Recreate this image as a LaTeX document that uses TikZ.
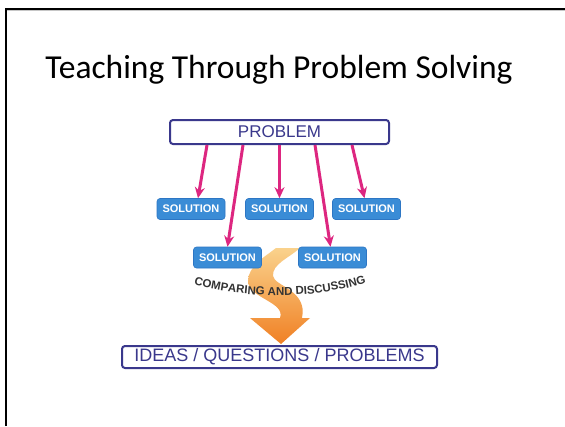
\documentclass[tikz,border=0pt]{standalone}
\usepackage{fontspec}
\setmainfont{Carlito}
\setsansfont{Liberation Sans}
\usetikzlibrary{arrows.meta,decorations.text}
\definecolor{probblue}{RGB}{58,56,140}
\definecolor{solfill}{RGB}{58,140,214}
\definecolor{soledge}{RGB}{45,118,196}
\definecolor{pinkline}{RGB}{221,38,128}
\definecolor{ribtop}{RGB}{250,210,140}
\definecolor{ribbot}{RGB}{240,128,36}

\begin{document}
\begin{tikzpicture}[x=1pt,y=-1pt,
  probbox/.style={draw=probblue,line width=2pt,fill=white,rounded corners=3pt,
    text=probblue,font=\sffamily\fontsize{17}{17}\selectfont,inner sep=0pt},
  solbox/.style={draw=soledge,line width=0.6pt,fill=solfill,rounded corners=3pt,
    text=white,font=\sffamily\bfseries\fontsize{11}{11}\selectfont,inner sep=0pt,
    minimum width=68pt,minimum height=21pt},
  pinkarrow/.style={draw=pinkline,line width=3pt,-{Stealth[length=11pt,width=10pt]}}]
\useasboundingbox (0,0) rectangle (565,426);
\fill[white] (0,0) rectangle (565,426);
\draw[gray!45,line width=1pt] (7,10.8) -- (565,10.8);
\draw[line width=2pt] (6,426) -- (6,9) -- (565,9);

\node[font=\fontsize{33.5}{33.5}\selectfont,anchor=base] (title) at (279,78) {Teaching Through Problem Solving};

\node[probbox,minimum width=219pt,minimum height=24pt] (prob) at (279.5,132) {PROBLEM};

\node[solbox] (sol1) at (191,209) {SOLUTION};
\node[solbox] (sol2) at (279.5,209) {SOLUTION};
\node[solbox] (sol3) at (366.5,209) {SOLUTION};

% orange ribbon
\shade[top color=ribtop,bottom color=ribbot]
  (300,248) .. controls (289,258) and (272,264) .. (273,276)
  .. controls (274,286) and (308,290) .. (302,318)
  -- (310,318) -- (281,344) -- (250,318) -- (280,318)
  .. controls (286,302) and (248,298) .. (248,281)
  .. controls (248,266) and (266,256) .. (276,248) -- cycle;

\node[solbox] (sol4) at (227.5,257.5) {SOLUTION};
\node[solbox] (sol5) at (332.5,257.5) {SOLUTION};

\draw[pinkarrow] ([xshift=-72.5pt]prob.south) -- ([xshift=7pt]sol1.north);
\draw[pinkarrow] ([xshift=-36.5pt]prob.south) -- (sol4.north);
\draw[pinkarrow] (prob.south) -- (sol2.north);
\draw[pinkarrow] ([xshift=35.5pt]prob.south) -- ([xshift=-2pt]sol5.north);
\draw[pinkarrow] ([xshift=72.5pt]prob.south) -- ([xshift=-2pt]sol3.north);

\path[decorate,decoration={text along path,text align=center,
  text={|\sffamily\bfseries\fontsize{11.5}{11.5}\selectfont\color{black!80}|COMPARING AND DISCUSSING}}]
  (186,282) .. controls (240,300) and (320,300) .. (374,280);

\node[probbox,minimum width=315pt,minimum height=22pt,
  font=\sffamily\fontsize{18}{18}\selectfont] (ideas) at (279.5,357) {IDEAS / QUESTIONS / PROBLEMS};
\end{tikzpicture}
\end{document}
